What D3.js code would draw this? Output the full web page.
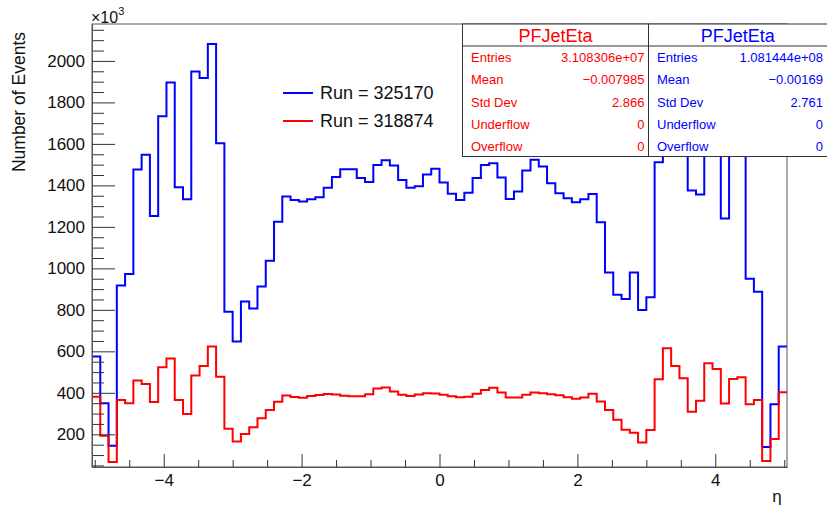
<!DOCTYPE html>
<html>
<head>
<meta charset="utf-8">
<script src="https://cdn.jsdelivr.net/npm/d3@7"></script>
<style>
  html, body { margin: 0; padding: 0; background: #fff; }
  svg { display: block; font-family: "Liberation Sans", Arial, Helvetica, sans-serif; }
</style>
</head>
<body>
<svg id="chart" width="827" height="510"></svg>
<script>
// ---- data ----
const xMin = -5.04, xMax = 5.04, nBins = 84;
// Run = 325170 (blue), counts in units of 10^3 per bin
const run325170 = [
  575, 350, 145, 917, 973, 1476, 1548, 1253, 1733, 1896,
  1391, 1333, 1949, 1918, 2081, 1603, 791, 647, 840, 806,
  912, 1037, 1225, 1346, 1330, 1322, 1333, 1343, 1389, 1441,
  1478, 1478, 1436, 1416, 1498, 1521, 1496, 1426, 1388, 1396,
  1452, 1480, 1414, 1360, 1330, 1365, 1436, 1498, 1507, 1438,
  1334, 1370, 1472, 1524, 1491, 1410, 1362, 1338, 1319, 1333,
  1359, 1222, 980, 873, 852, 980, 799, 861, 1512, 2050,
  1900, 1940, 1375, 1356, 1870, 1720, 1240, 1590, 1580, 950,
  887, 139, 345, 623
];
// Run = 318874 (red)
const run318874 = [
  381, 193, 67, 365, 350, 459, 443, 356, 523, 566,
  365, 298, 483, 529, 623, 478, 227, 165, 202, 234,
  277, 317, 357, 387, 380, 376, 385, 389, 394, 392,
  386, 383, 384, 393, 421, 426, 406, 391, 385, 392,
  398, 397, 391, 384, 379, 381, 396, 414, 424, 401,
  378, 378, 391, 401, 398, 393, 388, 379, 372, 377,
  395, 358, 317, 270, 222, 208, 160, 221, 465, 615,
  529, 470, 309, 362, 542, 515, 349, 467, 475, 345,
  365, 71, 177, 403
];
const seriesNames = ["Run = 325170", "Run = 318874"];
const seriesColors = ["#0000ff", "#ff0000"];
const xTickValues = [-4, -2, 0, 2, 4];
const yTickValues = [200, 400, 600, 800, 1000, 1200, 1400, 1600, 1800, 2000];
const statLabels = ["Entries", "Mean", "Std Dev", "Underflow", "Overflow"];
const statsRed = ["3.108306e+07", "\u22120.007985", "2.866", "0", "0"];
const statsBlue = ["1.081444e+08", "\u22120.00169", "2.761", "0", "0"];
const statsTitle = "PFJetEta";

// ---- layout ----
const svg = d3.select("#chart");
const pL = 92, pR = 787, pT = 24, pB = 467;
const x = d3.scaleLinear().domain([xMin, xMax]).range([pL, pR]);
const y = d3.scaleLinear().domain([42.4, 2178]).range([pB, pT]);
const binW = (xMax - xMin) / nBins;

// histogram step paths
function stepPath(vals) {
  let d = "";
  vals.forEach((v, i) => {
    const x0 = x(xMin + i * binW), x1 = x(xMin + (i + 1) * binW), yy = y(v);
    d += (i === 0 ? "M" : "L") + x0 + "," + yy + "L" + x1 + "," + yy;
  });
  return d;
}
const g = svg.append("g");
[run325170, run318874].forEach((vals, k) => {
  g.append("path").attr("d", stepPath(vals))
    .attr("fill", "none").attr("stroke", seriesColors[k])
    .attr("stroke-width", 2).attr("stroke-linejoin", "miter");
});

// frame
svg.append("rect").attr("x", pL).attr("y", pT)
  .attr("width", pR - pL).attr("height", pB - pT)
  .attr("fill", "none").attr("stroke", "#555").attr("stroke-width", 1);

// y axis
const yMinor = d3.range(50, 2178, 50).filter(v => v % 200 !== 0);
const yAxisMinor = svg.append("g").attr("transform", `translate(${pL},0)`)
  .call(d3.axisLeft(y).tickValues(yMinor).tickSize(-12).tickSizeOuter(0).tickFormat(""));
const yAxis = svg.append("g").attr("transform", `translate(${pL},0)`)
  .call(d3.axisLeft(y).tickValues(yTickValues).tickSize(-23).tickSizeOuter(0).tickPadding(7).tickFormat(d3.format("d")));
// x axis
const xMinor = d3.range(-5, 5.01, 0.5).filter(v => v % 2 !== 0);
const xAxisMinor = svg.append("g").attr("transform", `translate(0,${pB})`)
  .call(d3.axisBottom(x).tickValues(xMinor).tickSize(-7).tickSizeOuter(0).tickFormat(""));
const xAxis = svg.append("g").attr("transform", `translate(0,${pB})`)
  .call(d3.axisBottom(x).tickValues(xTickValues).tickSize(-13).tickSizeOuter(0).tickPadding(7).tickFormat(d3.format("d")));
[yAxisMinor, yAxis, xAxisMinor, xAxis].forEach(a => {
  a.select(".domain").attr("stroke", "#555");
  a.selectAll(".tick line").attr("stroke", "#333");
  a.selectAll("text").attr("font-size", 17).attr("fill", "#111")
    .attr("font-family", "'Liberation Sans', Arial, sans-serif");
});

// axis titles
svg.append("text").attr("transform", "translate(25,32) rotate(-90)")
  .attr("text-anchor", "end").attr("font-size", 17.5).attr("fill", "#111")
  .text("Number of Events");
svg.append("text").attr("x", 777).attr("y", 502).attr("text-anchor", "middle")
  .attr("font-size", 17).attr("fill", "#111").text("\u03B7");
const exp = svg.append("text").attr("x", 91).attr("y", 22.5).attr("font-size", 16).attr("fill", "#111");
exp.append("tspan").text("\u00D710");
exp.append("tspan").attr("font-size", 11).attr("dy", -8).text("3");

// legend
seriesNames.forEach((name, k) => {
  const ly = 93 + k * 28;
  svg.append("line").attr("x1", 283).attr("x2", 313).attr("y1", ly).attr("y2", ly)
    .attr("stroke", seriesColors[k]).attr("stroke-width", 2);
  svg.append("text").attr("x", 320).attr("y", ly).attr("dy", "0.35em")
    .attr("font-size", 18).attr("fill", "#111").text(name);
});

// stats boxes
const boxes = [
  {x0: 462.5, x1: 648.5, color: "#ff0000", vals: statsRed},
  {x0: 648.5, x1: 828, color: "#0000ff", vals: statsBlue}
];
boxes.forEach(b => {
  const bg = svg.append("g");
  bg.append("rect").attr("x", b.x0).attr("y", 24).attr("width", b.x1 - b.x0).attr("height", 132.5)
    .attr("fill", "#fff").attr("stroke", "#333").attr("stroke-width", 1);
  bg.append("line").attr("x1", b.x0).attr("x2", b.x1).attr("y1", 46).attr("y2", 46)
    .attr("stroke", "#333").attr("stroke-width", 1);
  bg.append("text").attr("x", (b.x0 + Math.min(b.x1, 827)) / 2).attr("y", 36).attr("dy", "0.35em")
    .attr("text-anchor", "middle").attr("font-size", 18).attr("fill", b.color).text(statsTitle);
  statLabels.forEach((lab, i) => {
    const ry = 57.5 + i * 22.3;
    bg.append("text").attr("x", b.x0 + 8.5).attr("y", ry).attr("dy", "0.35em")
      .attr("font-size", 13).attr("fill", b.color).text(lab);
    bg.append("text").attr("x", Math.min(b.x1, 827) - 4).attr("y", ry).attr("dy", "0.35em")
      .attr("text-anchor", "end").attr("font-size", 13).attr("fill", b.color).text(b.vals[i]);
  });
});
</script>
</body>
</html>
